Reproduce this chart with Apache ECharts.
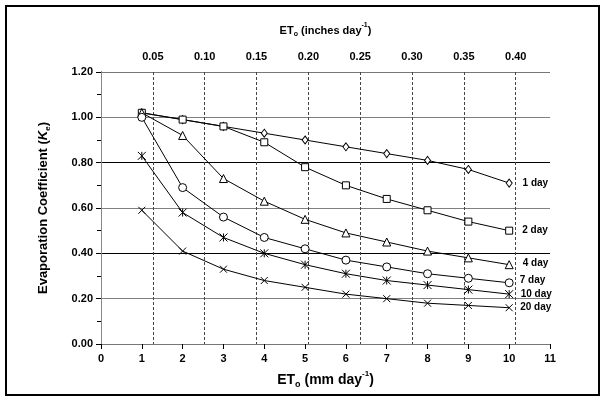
<!DOCTYPE html>
<html>
<head>
<meta charset="utf-8">
<script src="https://cdn.jsdelivr.net/npm/echarts@6/dist/echarts.min.js"></script>
<style>html,body{margin:0;padding:0;background:#fff}#c{width:605px;height:400px}</style>
</head>
<body>
<div id="c"></div>
<script>
const etMm = [1, 2, 3, 4, 5, 6, 7, 8, 9, 10];
const seriesNames = ['1 day', '2 day', '4 day', '7 day', '10 day', '20 day'];
const day1 = [1.02, 0.99, 0.96, 0.93, 0.90, 0.87, 0.84, 0.81, 0.77, 0.71];
const day2 = [1.02, 0.99, 0.96, 0.89, 0.78, 0.70, 0.64, 0.59, 0.54, 0.50];
const day4 = [1.02, 0.92, 0.73, 0.63, 0.55, 0.49, 0.45, 0.41, 0.38, 0.35];
const day7 = [1.00, 0.69, 0.56, 0.47, 0.42, 0.37, 0.34, 0.31, 0.29, 0.27];
const day10 = [0.83, 0.58, 0.47, 0.40, 0.35, 0.31, 0.28, 0.26, 0.24, 0.22];
const day20 = [0.59, 0.41, 0.33, 0.28, 0.25, 0.22, 0.20, 0.18, 0.17, 0.16];
const yTicks = ['0.00', '0.20', '0.40', '0.60', '0.80', '1.00', '1.20'];
const inchTicks = ['0.05', '0.10', '0.15', '0.20', '0.25', '0.30', '0.35', '0.40'];

const allSeries = [day1, day2, day4, day7, day10, day20];
const symbols = [
  'diamond', 'rect', 'triangle', 'circle',
  'path://M0,0L10,10M10,0L0,10M5,0L5,10',
  'path://M0,0L10,10M10,0L0,10'
];
const symbolSizes = [[6, 8], 7, 8, 8, 8, 7];
const labelOffsets = [[4, 0], [3, 0], [3, -1], [0, -3], [-1, 0], [-1, 0]];

const FONT = '"Liberation Sans", Arial, sans-serif';
const chart = echarts.init(document.getElementById('c'), null, { renderer: 'canvas' });

const series = allSeries.map((vals, i) => ({
  name: seriesNames[i],
  type: 'line',
  xAxisIndex: 0,
  yAxisIndex: 0,
  data: vals.map((v, j) => [etMm[j], v]),
  symbol: symbols[i],
  symbolSize: symbolSizes[i],
  showAllSymbol: true,
  lineStyle: { color: '#000', width: 1 },
  itemStyle: { color: i >= 4 ? 'none' : '#fff', borderColor: '#000', borderWidth: 1 },
  emphasis: { disabled: true },
  animation: false,
  z: 3,
  label: {
    show: true,
    position: 'right',
    distance: 6,
    offset: labelOffsets[i],
    fontFamily: FONT,
    fontWeight: 'bold',
    fontSize: 10,
    color: '#000',
    formatter: p => (p.dataIndex === vals.length - 1 ? seriesNames[i] : '')
  }
}));

const option = {
  animation: false,
  backgroundColor: '#fff',
  textStyle: { fontFamily: FONT },
  grid: { left: 101, right: 55, top: 72, bottom: 56, containLabel: false },
  graphic: [{
    type: 'rect',
    shape: { x: 6, y: 6, width: 593, height: 389 },
    style: { fill: 'none', stroke: '#000', lineWidth: 2 },
    silent: true
  }],
  xAxis: [{
    type: 'value',
    position: 'bottom',
    min: 0, max: 11, interval: 1,
    name: '{b|ET}{s|o}{b| (mm day}{p|-1}{b|)}',
    nameLocation: 'center',
    nameGap: 29,
    nameTextStyle: {
      rich: {
        b: { fontFamily: FONT, fontWeight: 'bold', fontSize: 14, color: '#000' },
        s: { fontFamily: FONT, fontWeight: 'bold', fontSize: 9, color: '#000', verticalAlign: 'bottom', padding: [0, 0, -2, 0] },
        p: { fontFamily: FONT, fontWeight: 'bold', fontSize: 8, color: '#000', verticalAlign: 'top', padding: [-3, 0, 0, 0] }
      }
    },
    axisLine: { show: true, lineStyle: { color: '#000', width: 1 } },
    axisTick: { show: true, inside: false, length: 5, lineStyle: { color: '#000' } },
    axisLabel: { fontFamily: FONT, fontWeight: 'bold', fontSize: 11, color: '#000', margin: 9 },
    splitLine: { show: false }
  }, {
    type: 'value',
    position: 'top',
    min: 0, max: 11 / 25.4, interval: 0.05,
    name: '{b|ET}{s|o}{b| (inches day}{p|-1}{b|)}',
    nameLocation: 'center',
    nameGap: 36,
    nameTextStyle: {
      rich: {
        b: { fontFamily: FONT, fontWeight: 'bold', fontSize: 11, color: '#000' },
        s: { fontFamily: FONT, fontWeight: 'bold', fontSize: 7, color: '#000', verticalAlign: 'bottom', padding: [0, 0, -2, 0] },
        p: { fontFamily: FONT, fontWeight: 'bold', fontSize: 7, color: '#000', verticalAlign: 'top', padding: [-3, 0, 0, 0] }
      }
    },
    axisLine: { show: true, lineStyle: { color: '#777', width: 1 } },
    axisTick: { show: false },
    axisLabel: {
      fontFamily: FONT, fontWeight: 'bold', fontSize: 11, color: '#000', margin: 10,
      showMinLabel: false, showMaxLabel: false,
      formatter: v => {
        const k = Math.round(v / 0.05);
        if (k < 1 || Math.abs(v - k * 0.05) > 1e-6 || k > inchTicks.length) return '';
        return inchTicks[k - 1];
      }
    },
    splitLine: {
      show: true, showMinLine: false, showMaxLine: false,
      lineStyle: { color: '#444', type: [3, 2], width: 1 }
    }
  }],
  yAxis: [{
    type: 'value',
    min: 0, max: 1.2, interval: 0.2,
    name: '{b|Evaporation Coefficient (}{i|K}{s|e}{b|)}',
    nameLocation: 'center',
    nameGap: 51,
    nameRotate: 90,
    nameTextStyle: {
      rich: {
        b: { fontFamily: FONT, fontWeight: 'bold', fontSize: 13, color: '#000' },
        i: { fontFamily: FONT, fontWeight: 'bold', fontStyle: 'italic', fontSize: 13, color: '#000' },
        s: { fontFamily: FONT, fontWeight: 'bold', fontSize: 8, color: '#000', verticalAlign: 'bottom', padding: [0, 0, -2, 0] }
      }
    },
    axisLine: { show: true, lineStyle: { color: '#000', width: 1 } },
    axisTick: { show: true, inside: false, length: 5, lineStyle: { color: '#000' } },
    minorTick: { show: true, splitNumber: 2, length: 4, lineStyle: { color: '#000' } },
    axisLabel: {
      fontFamily: FONT, fontWeight: 'bold', fontSize: 11, color: '#000', margin: 8,
      formatter: v => yTicks[Math.round(v / 0.2)]
    },
    splitLine: {
      show: true,
      lineStyle: { color: ['#000', '#808080', '#000', '#808080', '#000', '#808080', '#777'], width: 1 }
    }
  }, {
    type: 'value',
    position: 'right',
    min: 0, max: 1.2,
    axisLine: { show: true, lineStyle: { color: '#888', width: 1 } },
    axisTick: { show: false },
    axisLabel: { show: false },
    splitLine: { show: false }
  }],
  series: series
};
chart.setOption(option);
</script>
</body>
</html>
